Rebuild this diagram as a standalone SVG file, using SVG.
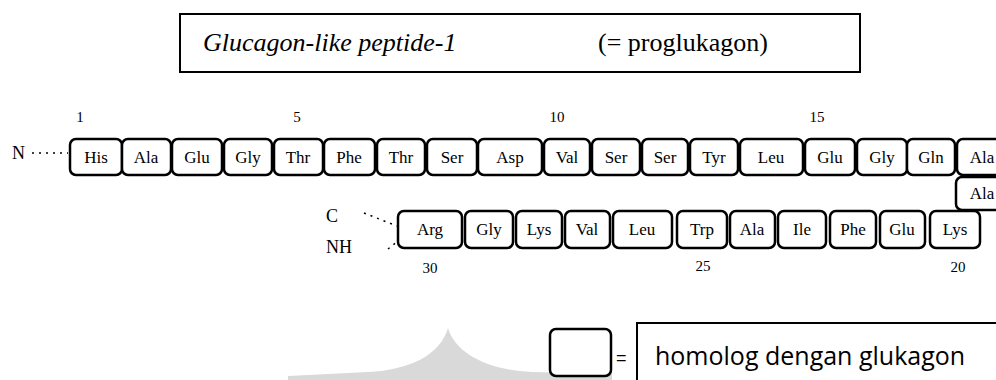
<svg xmlns="http://www.w3.org/2000/svg" width="996" height="380" viewBox="0 0 996 380">
<style>
.aa rect{fill:#fff;stroke:#000;stroke-width:2.5}
.aa text{font-family:"Liberation Serif","Times New Roman",serif;font-size:17px;text-anchor:middle;fill:#000}
.num{font-family:"Liberation Serif","Times New Roman",serif;font-size:15px;text-anchor:middle;fill:#000}
.lbl{font-family:"Liberation Serif","Times New Roman",serif;font-size:18px;fill:#000}
.dot{stroke:#000;stroke-width:1.5;stroke-dasharray:2 5;fill:none}
</style>
<path id="watermark" d="M448,328 C440,355 410,370 368,372 L288,376 L288,380 L612,380 L612,374 L532,372 C490,370 456,355 448,328 Z" fill="#d9d9d9"/>
<g id="title">
<rect x="180" y="14" width="680" height="58" fill="#fff" stroke="#000" stroke-width="2"/>
<text x="203" y="51" font-family="Liberation Serif,serif" font-style="italic" font-size="26">Glucagon-like peptide-1</text>
<text x="598" y="51" font-family="Liberation Serif,serif" font-size="26">(= proglukagon)</text>
</g>
<g id="numbers">
<text class="num" x="80" y="122">1</text>
<text class="num" x="297" y="122">5</text>
<text class="num" x="557" y="122">10</text>
<text class="num" x="817" y="122">15</text>
<text class="num" x="430" y="273">30</text>
<text class="num" x="703" y="271">25</text>
<text class="num" x="958" y="272">20</text>
</g>
<g id="termini">
<text class="lbl" x="12" y="159">N</text>
<text class="lbl" x="326" y="222">C</text>
<text class="lbl" x="326" y="253">NH</text>
</g>
<g id="connectors">
<line class="dot" x1="32" y1="153" x2="68" y2="153"/>
<line class="dot" x1="364" y1="213" x2="397" y2="226"/>
<line class="dot" x1="388" y1="249" x2="398" y2="241"/>
</g>
<g id="top-row" class="aa">
<g id="aa1"><rect x="70" y="139" width="52" height="36" rx="6"/><text x="96" y="163">His</text></g>
<g id="aa2"><rect x="122" y="139" width="49" height="36" rx="6"/><text x="146" y="163">Ala</text></g>
<g id="aa3"><rect x="172" y="139" width="50" height="36" rx="6"/><text x="197" y="163">Glu</text></g>
<g id="aa4"><rect x="224" y="139" width="48" height="36" rx="6"/><text x="248" y="163">Gly</text></g>
<g id="aa5"><rect x="274" y="139" width="49" height="36" rx="6"/><text x="298" y="163">Thr</text></g>
<g id="aa6"><rect x="324" y="139" width="51" height="36" rx="6"/><text x="349" y="163">Phe</text></g>
<g id="aa7"><rect x="377" y="139" width="48" height="36" rx="6"/><text x="401" y="163">Thr</text></g>
<g id="aa8"><rect x="427" y="139" width="50" height="36" rx="6"/><text x="452" y="163">Ser</text></g>
<g id="aa9"><rect x="478" y="139" width="64" height="36" rx="6"/><text x="510" y="163">Asp</text></g>
<g id="aa10"><rect x="544" y="139" width="46" height="36" rx="6"/><text x="567" y="163">Val</text></g>
<g id="aa11"><rect x="592" y="139" width="48" height="36" rx="6"/><text x="616" y="163">Ser</text></g>
<g id="aa12"><rect x="642" y="139" width="46" height="36" rx="6"/><text x="665" y="163">Ser</text></g>
<g id="aa13"><rect x="690" y="139" width="48" height="36" rx="6"/><text x="714" y="163">Tyr</text></g>
<g id="aa14"><rect x="740" y="139" width="63" height="36" rx="6"/><text x="771" y="163">Leu</text></g>
<g id="aa15"><rect x="805" y="139" width="50" height="36" rx="6"/><text x="830" y="163">Glu</text></g>
<g id="aa16"><rect x="857" y="139" width="50" height="36" rx="6"/><text x="882" y="163">Gly</text></g>
<g id="aa17"><rect x="907" y="139" width="48" height="36" rx="6"/><text x="931" y="163">Gln</text></g>
<g id="aa18"><rect x="957" y="139" width="50" height="36" rx="6"/><text x="982" y="163">Ala</text></g>
<g id="aa19"><rect x="956" y="177" width="52" height="33" rx="6"/><text x="982" y="199">Ala</text></g>
</g>
<g id="bottom-row" class="aa">
<g id="aa30"><rect x="398" y="211" width="64" height="37" rx="6"/><text x="430" y="235">Arg</text></g>
<g id="aa29"><rect x="465" y="211" width="48" height="37" rx="6"/><text x="489" y="235">Gly</text></g>
<g id="aa28"><rect x="516" y="211" width="46" height="37" rx="6"/><text x="539" y="235">Lys</text></g>
<g id="aa27"><rect x="565" y="211" width="45" height="37" rx="6"/><text x="587" y="235">Val</text></g>
<g id="aa26"><rect x="613" y="211" width="59" height="37" rx="6"/><text x="642" y="235">Leu</text></g>
<g id="aa25"><rect x="677" y="211" width="50" height="37" rx="6"/><text x="702" y="235">Trp</text></g>
<g id="aa24"><rect x="730" y="211" width="45" height="37" rx="6"/><text x="752" y="235">Ala</text></g>
<g id="aa23"><rect x="778" y="211" width="48" height="37" rx="6"/><text x="802" y="235">Ile</text></g>
<g id="aa22"><rect x="830" y="211" width="46" height="37" rx="6"/><text x="853" y="235">Phe</text></g>
<g id="aa21"><rect x="880" y="211" width="45" height="37" rx="6"/><text x="902" y="235">Glu</text></g>
<g id="aa20"><rect x="930" y="211" width="50" height="37" rx="6"/><text x="955" y="235">Lys</text></g>
</g>
<g id="legend">
<rect x="550" y="329" width="61" height="47" rx="6" fill="#fff" stroke="#000" stroke-width="2.5"/>
<text x="616" y="364" font-family="Liberation Sans,sans-serif" font-size="18">=</text>
<path d="M637,382 L637,323 L1000,323" fill="none" stroke="#000" stroke-width="2"/>
<text x="655" y="365" font-family="Open Sans,Liberation Sans,sans-serif" font-size="25">homolog dengan glukagon</text>
</g>
</svg>
